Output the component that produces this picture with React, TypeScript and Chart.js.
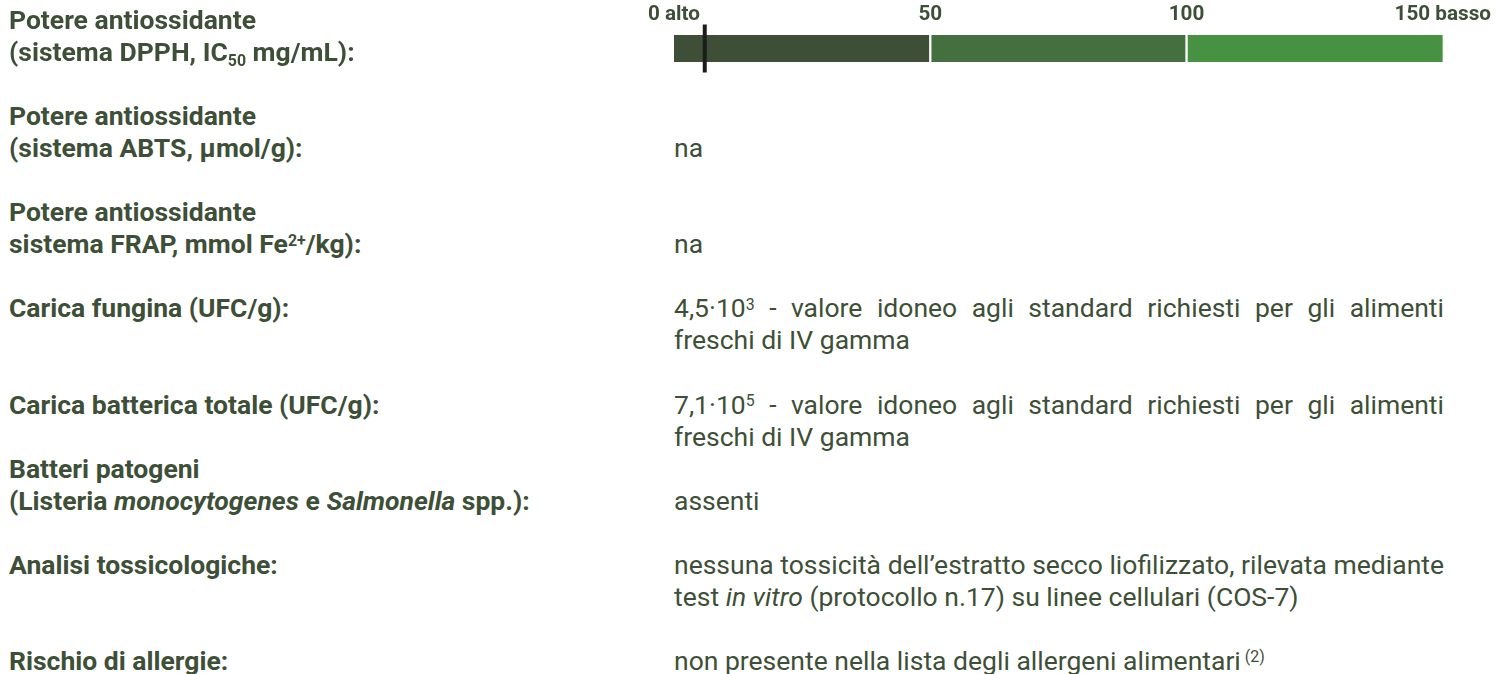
import React, { useEffect, useRef } from "react";
import { Chart, registerables } from "chart.js";

Chart.register(...registerables);

// ---- data ----
const CATEGORIES = ["DPPH"];
const SEGMENT_LOW = [50];
const SEGMENT_MID = [50];
const SEGMENT_HIGH = [50];
const MARKER_VALUES = [6];
const TICK_VALUES = [0, 50, 100, 150];
const TICK_LABELS = ["0 alto", "50", "100", "150 basso"];

const TEXT = "#3e4f37";
const FONT = "Roboto, 'Noto Sans', sans-serif";
const LINE = 32.05;
const FS = 26.5;

function BarChart() {
  const ref = useRef<HTMLCanvasElement | null>(null);
  useEffect(() => {
    if (!ref.current) return;
    const chart = new Chart(ref.current, {
      type: "bar",
      data: {
        labels: CATEGORIES,
        datasets: [
          {
            type: "scatter" as any,
            label: "marker",
            data: CATEGORIES.map((c, i) => ({ x: MARKER_VALUES[i], y: c })),
            pointStyle: "line",
            rotation: 90,
            radius: 24,
            hoverRadius: 24,
            borderWidth: 4,
            borderColor: "#1c1c1c",
            backgroundColor: "#1c1c1c",
            order: 0,
            stack: "marker",
            clip: false as any,
          } as any,
          {
            label: "0-50",
            data: SEGMENT_LOW,
            backgroundColor: "#3e4e37",
            borderColor: "#ffffff",
            borderWidth: { left: 0, right: 1.5, top: 0, bottom: 0 },
            borderSkipped: false,
            barThickness: 28,
            order: 1,
            stack: "scale",
          },
          {
            label: "50-100",
            data: SEGMENT_MID,
            backgroundColor: "#44703f",
            borderColor: "#ffffff",
            borderWidth: { left: 1.5, right: 1.5, top: 0, bottom: 0 },
            borderSkipped: false,
            barThickness: 28,
            order: 1,
            stack: "scale",
          },
          {
            label: "100-150",
            data: SEGMENT_HIGH,
            backgroundColor: "#479142",
            borderColor: "#ffffff",
            borderWidth: { left: 1.5, right: 0, top: 0, bottom: 0 },
            borderSkipped: false,
            barThickness: 28,
            order: 1,
            stack: "scale",
          },
        ],
      },
      options: {
        indexAxis: "y",
        animation: false,
        responsive: false,
        maintainAspectRatio: false,
        layout: { padding: { left: 74, right: 54, top: 2, bottom: 22 } },
        plugins: { legend: { display: false }, tooltip: { enabled: false } },
        scales: {
          x: {
            type: "linear",
            position: "top",
            stacked: true,
            min: 0,
            max: 150,
            grid: { display: false, drawTicks: false },
            border: { display: false },
            afterBuildTicks: (scale: any) => {
              scale.ticks = TICK_VALUES.map((v) => ({ value: v }));
            },
            ticks: {
              autoSkip: false,
              maxRotation: 0,
              padding: 8,
              color: TEXT,
              font: { family: FONT, size: 20.7, weight: "bold" },
              callback: (value: any) => {
                const i = TICK_VALUES.indexOf(Number(value));
                return i >= 0 ? TICK_LABELS[i] : "";
              },
            },
          },
          y: {
            type: "category",
            stacked: true,
            display: false,
          },
        },
      },
    });
    return () => chart.destroy();
  }, []);
  return <canvas ref={ref} width={899} height={90} style={{ display: "block", width: 899, height: 90 }} />;
}

const supStyle: React.CSSProperties = { fontSize: "0.6em", position: "relative", top: "-0.48em", lineHeight: 0 };
const subStyle: React.CSSProperties = { fontSize: "0.6em", position: "relative", top: "0.3em", lineHeight: 0 };

function Label({ k, children }: { k: number; children: React.ReactNode }) {
  return (
    <div
      style={{
        position: "absolute",
        left: 9,
        top: 4 + LINE * k,
        width: 640,
        fontFamily: FONT,
        fontWeight: 700,
        fontSize: FS,
        lineHeight: `${LINE}px`,
        color: TEXT,
        whiteSpace: "nowrap",
      }}
    >
      {children}
    </div>
  );
}

function Value({ k, children }: { k: number; children: React.ReactNode }) {
  return (
    <div
      style={{
        position: "absolute",
        left: 674,
        top: 4 + LINE * k,
        width: 770,
        fontFamily: FONT,
        fontWeight: 400,
        fontSize: FS,
        lineHeight: `${LINE}px`,
        color: TEXT,
        textAlign: "justify",
      }}
    >
      {children}
    </div>
  );
}

export default function App() {
  return (
    <div style={{ position: "absolute", left: 0, top: 0, width: 1499, height: 674, background: "#fff", overflow: "hidden" }}>
      <div style={{ position: "absolute", left: 600, top: 0 }}>
        <BarChart />
      </div>

      <Label k={0}>
        Potere antiossidante
        <br />
        (sistema DPPH, IC<span style={subStyle}>50</span> mg/mL):
      </Label>

      <Label k={3}>
        Potere antiossidante
        <br />
        (sistema ABTS, µmol/g):
      </Label>
      <Value k={4}>na</Value>

      <Label k={6}>
        Potere antiossidante
        <br />
        sistema FRAP, mmol Fe<span style={supStyle}>2+</span>/kg):
      </Label>
      <Value k={7}>na</Value>

      <Label k={9}>Carica fungina (UFC/g):</Label>
      <Value k={9}>
        4,5·10<span style={supStyle}>3</span> - valore idoneo agli standard richiesti per gli alimenti freschi di IV gamma
      </Value>

      <Label k={12}>Carica batterica totale (UFC/g):</Label>
      <Value k={12}>
        7,1·10<span style={supStyle}>5</span> - valore idoneo agli standard richiesti per gli alimenti freschi di IV gamma
      </Value>

      <Label k={14}>
        Batteri patogeni
        <br />
        (Listeria <i>monocytogenes</i> e <i>Salmonella</i> spp.):
      </Label>
      <Value k={15}>assenti</Value>

      <Label k={17}>Analisi tossicologiche:</Label>
      <Value k={17}>
        nessuna tossicità dell’estratto secco liofilizzato, rilevata mediante test <i>in vitro</i> (protocollo n.17) su linee cellulari (COS-7)
      </Value>

      <Label k={20}>Rischio di allergie:</Label>
      <Value k={20}>
        non presente nella lista degli allergeni alimentari<span style={supStyle}> (2)</span>
      </Value>
    </div>
  );
}
